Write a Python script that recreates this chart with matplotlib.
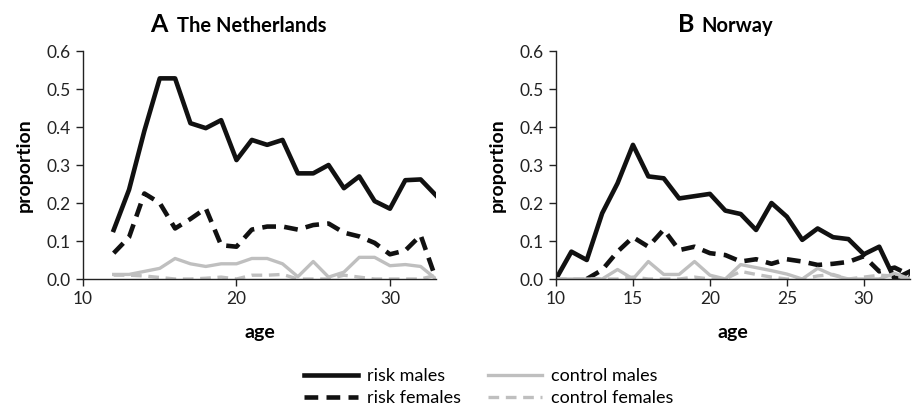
import matplotlib
matplotlib.use('Agg')
import matplotlib.pyplot as plt
import numpy as np

plt.rcParams['font.family'] = ['Lato', 'DejaVu Sans']

# ages
ages_nl = [12, 13, 14, 15, 16, 17, 18, 19, 20, 21, 22, 23, 24, 25, 26, 27, 28, 29, 30, 31, 32, 33]
ages_no = [10, 11, 12, 13, 14, 15, 16, 17, 18, 19, 20, 21, 22, 23, 24, 25, 26, 27, 28, 29, 30, 31, 32, 33]

# The Netherlands
nl_risk_m = [0.129, 0.235, 0.39, 0.528, 0.528, 0.41, 0.397, 0.418, 0.313, 0.366, 0.353,
             0.366, 0.278, 0.278, 0.30, 0.239, 0.27, 0.205, 0.185, 0.26, 0.262, 0.22]
nl_risk_f = [0.068, 0.11, 0.225, 0.20, 0.133, 0.158, 0.186, 0.089, 0.085, 0.13, 0.138,
             0.138, 0.13, 0.142, 0.146, 0.122, 0.112, 0.095, 0.065, 0.075, 0.115, 0.0]
nl_ctrl_m = [0.012, 0.012, 0.02, 0.028, 0.054, 0.04, 0.033, 0.04, 0.04, 0.054, 0.054,
             0.04, 0.006, 0.046, 0.005, 0.018, 0.057, 0.057, 0.035, 0.038, 0.033, 0.0]
nl_ctrl_f = [0.01, 0.01, 0.008, 0.004, 0.0, 0.0, 0.002, 0.005, 0.0, 0.01, 0.01,
             0.012, 0.0, 0.0, 0.0, 0.01, 0.005, 0.0, 0.0, 0.0, 0.0, 0.01]

# Norway
no_risk_m = [0.0, 0.072, 0.05, 0.173, 0.252, 0.353, 0.27, 0.265, 0.212, 0.218, 0.224, 0.18,
             0.171, 0.129, 0.2, 0.164, 0.103, 0.133, 0.11, 0.105, 0.065, 0.085, 0.0, 0.02]
no_risk_f = [np.nan, np.nan, 0.0, 0.024, 0.072, 0.11, 0.085, 0.13, 0.076, 0.085, 0.068, 0.063,
             0.046, 0.052, 0.04, 0.052, 0.046, 0.037, 0.04, 0.045, 0.06, 0.02, 0.03, 0.01]
no_ctrl_m = [0.0, 0.0, 0.0, 0.0, 0.025, 0.0, 0.046, 0.012, 0.012, 0.046, 0.01, 0.0,
             0.038, 0.03, 0.022, 0.013, 0.0, 0.028, 0.01, 0.0, 0.0, 0.0, 0.015, 0.0]
no_ctrl_f = [0.0, 0.0, 0.0, 0.0, 0.0, 0.005, 0.0, 0.0, 0.0, 0.005, 0.0, 0.0,
             0.02, 0.012, 0.005, 0.0, 0.0, 0.008, 0.012, 0.0, 0.005, 0.01, 0.008, 0.0]

black = '#111111'
grey = '#bfbfbf'

fig = plt.figure(figsize=(9.13, 4.11), dpi=100)
ax_a = fig.add_axes([83 / 913, 1 - 279 / 411, 353 / 913, 228 / 411])
ax_b = fig.add_axes([556 / 913, 1 - 279 / 411, 354 / 913, 228 / 411])


def draw(ax, ages, rm, rf, cm, cf, xticks):
    ax.plot(ages, rm, color=black, lw=3.3, label='risk males')
    ax.plot(ages, rf, color=black, lw=3.3, dashes=(3.0, 1.8), label='risk females')
    ax.plot(ages, cm, color=grey, lw=2.4, label='control males')
    ax.plot(ages, cf, color=grey, lw=2.4, dashes=(3.2, 2.0), label='control females')
    ax.set_xlim(10, 33)
    ax.set_ylim(0, 0.6)
    ax.set_xticks(xticks)
    yt = [0, 0.1, 0.2, 0.3, 0.4, 0.5, 0.6]
    ax.set_yticks(yt)
    ax.set_yticklabels(['%.1f' % v for v in yt])
    for s in ['top', 'right']:
        ax.spines[s].set_visible(False)
    for s in ['left', 'bottom']:
        ax.spines[s].set_linewidth(1.0)
        ax.spines[s].set_color('#222222')
    ax.tick_params(axis='both', direction='out', length=5, width=1.0, labelsize=12.5,
                   colors='#222222', pad=4)
    ax.set_xlabel('age', fontsize=14, fontweight='bold', labelpad=12)
    ax.set_ylabel('proportion', fontsize=14, fontweight='bold', labelpad=10)


draw(ax_a, ages_nl, nl_risk_m, nl_risk_f, nl_ctrl_m, nl_ctrl_f, [10, 20, 30])
draw(ax_b, ages_no, no_risk_m, no_risk_f, no_ctrl_m, no_ctrl_f, [10, 15, 20, 25, 30])

# panel titles: big bold letter followed by country name
ax_a.text(0.19, 1.085, 'A', transform=ax_a.transAxes, fontsize=18, fontweight='bold', ha='left', va='baseline')
ax_a.text(0.265, 1.085, 'The Netherlands', transform=ax_a.transAxes, fontsize=14.5, fontweight='bold',
          ha='left', va='baseline')
ax_b.text(0.345, 1.085, 'B', transform=ax_b.transAxes, fontsize=18, fontweight='bold', ha='left', va='baseline')
ax_b.text(0.41, 1.085, 'Norway', transform=ax_b.transAxes, fontsize=14.5, fontweight='bold',
          ha='left', va='baseline')

handles, labels = ax_a.get_legend_handles_labels()
fig.legend(handles, labels, ncol=2, loc='center', bbox_to_anchor=(0.535, 0.058), frameon=False,
           fontsize=13, handlelength=3.0, columnspacing=1.5, labelspacing=0.3, handletextpad=0.5)

fig.savefig('out.png', dpi=100)
